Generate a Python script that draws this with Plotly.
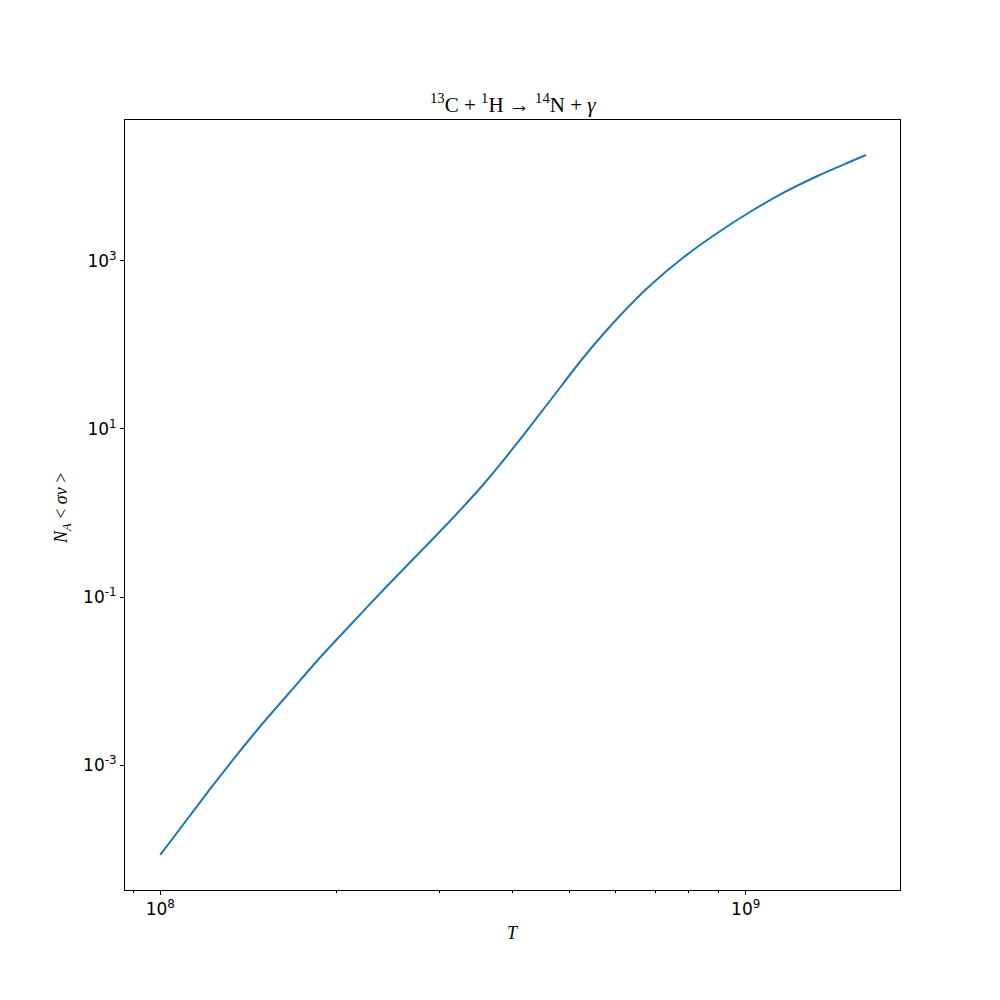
import plotly.graph_objects as go

# Temperature (K)
T = [1.0e8, 1.096e8, 1.213e8, 1.343e8, 1.488e8, 1.663e8, 1.865e8, 2.112e8,
     2.408e8, 2.747e8, 3.131e8, 3.569e8, 4.072e8, 4.642e8, 5.291e8, 6.035e8,
     6.880e8, 7.843e8, 8.945e8, 1.020e9, 1.163e9, 1.326e9, 1.511e9, 1.604e9]
# Reaction rate N_A <sigma v>
rate = [8.58e-5, 2.004e-4, 5.085e-4, 1.256e-3, 3.014e-3, 7.34e-3, 1.837e-2, 4.66e-2,
        0.1232, 0.3167, 0.814, 2.212, 6.797, 22.06, 71.6, 205.5,
        514.1, 1107, 2135, 3846, 6471, 10165, 15117, 18064]

x_ticks = [1e8, 1e9]
x_labels = ["10<sup>8</sup>", "10<sup>9</sup>"]
y_ticks = [1e-3, 1e-1, 1e1, 1e3]
y_labels = ["10<sup>-3</sup>", "10<sup>-1</sup>", "10<sup>1</sup>", "10<sup>3</sup>"]

title_text = "<sup>13</sup>C + <sup>1</sup>H → <sup>14</sup>N + <i>γ</i>"
x_title = "<i>T</i>"
y_title = "<i>N</i><sub><i>A</i></sub> &lt; <i>σv</i> &gt;"

fig = go.Figure()
fig.add_trace(go.Scatter(x=T, y=rate, mode="lines",
                         line=dict(color="#1f77b4", width=2, shape="spline", smoothing=0.8),
                         showlegend=False))

fig.update_layout(
    width=1000, height=1000,
    paper_bgcolor="white", plot_bgcolor="white",
    margin=dict(l=117, r=108, t=112, b=118, autoexpand=False),
    font=dict(family="DejaVu Sans", size=17, color="black"),
)
fig.add_annotation(text=title_text, xref="paper", yref="paper", x=0.5, y=1.022,
                   xanchor="center", yanchor="middle", showarrow=False,
                   font=dict(family="Liberation Serif", size=21, color="black"))
fig.add_annotation(text=x_title, xref="paper", yref="paper", x=0.5, y=-0.0558,
                   xanchor="center", yanchor="middle", showarrow=False,
                   font=dict(family="Liberation Serif", size=18, color="black"))
fig.add_annotation(text=y_title, xref="paper", yref="paper", x=-0.0813, y=0.496,
                   xanchor="center", yanchor="middle", showarrow=False, textangle=-90,
                   font=dict(family="Liberation Serif", size=18, color="black"))

fig.update_xaxes(type="log", range=[7.9397, 9.2636], automargin=False,
                 tickvals=x_ticks, ticktext=x_labels,
                 ticks="outside", ticklen=4, tickwidth=1, tickcolor="black",
                 showline=True, linecolor="black", linewidth=1, mirror=True,
                 showgrid=False, zeroline=False,
                 minor=dict(ticks="outside", ticklen=2, tickwidth=0.8, tickcolor="black",
                            dtick="D1", showgrid=False))
fig.update_yaxes(type="log", range=[-4.483, 4.673], automargin=False,
                 tickvals=y_ticks, ticktext=y_labels,
                 ticks="outside", ticklen=4, tickwidth=1, tickcolor="black",
                 showline=True, linecolor="black", linewidth=1, mirror=True,
                 showgrid=False, zeroline=False)

fig.write_html("out.html")
